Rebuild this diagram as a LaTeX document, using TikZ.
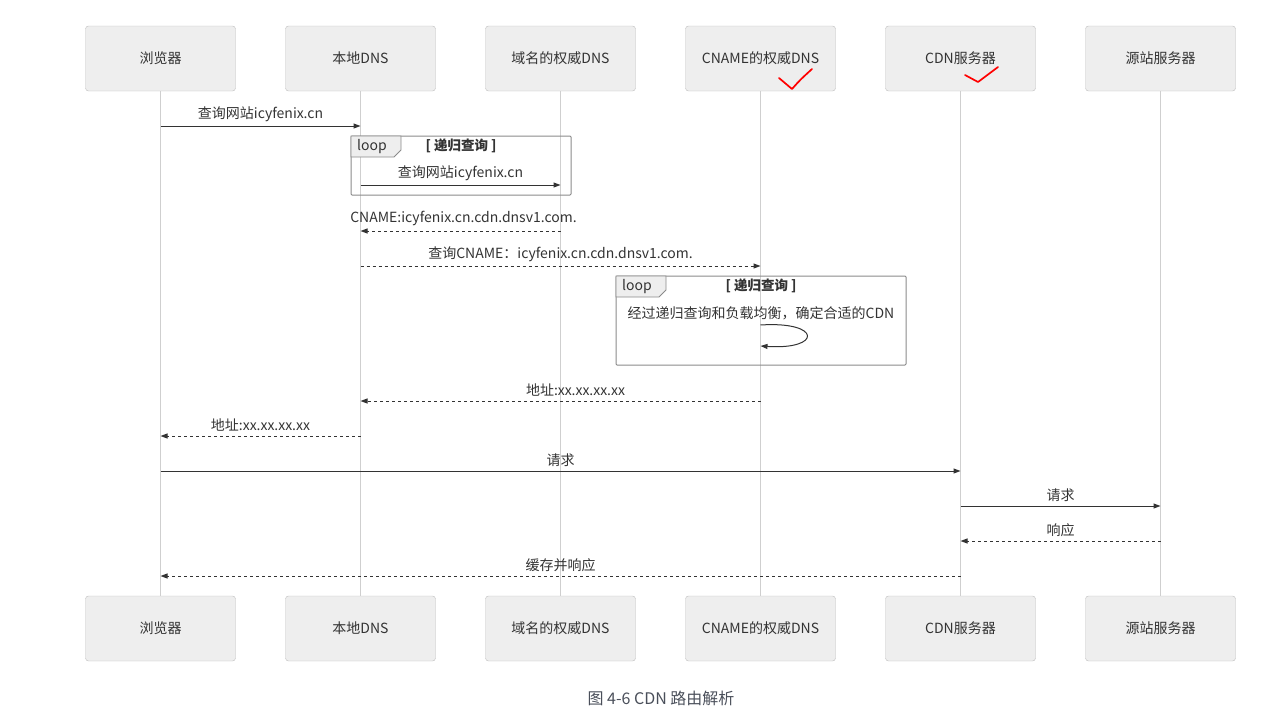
\documentclass[tikz,border=0pt]{standalone}
\usepackage{fontspec}
\setmainfont{Noto Sans CJK SC}
\usetikzlibrary{arrows.meta}

\definecolor{boxfill}{HTML}{EEEEEE}
\definecolor{boxline}{HTML}{BDBDBD}
\definecolor{lifeline}{HTML}{CFCFCF}
\definecolor{ink}{HTML}{333333}
\definecolor{frameline}{HTML}{8A8A8A}
\definecolor{caption}{HTML}{4A4F5A}

\begin{document}
\begin{tikzpicture}[x=1pt, y=-1pt,
    actor/.style={draw=boxline, fill=boxfill, rounded corners=3pt,
        minimum width=150pt, minimum height=65pt, inner sep=0pt,
        text=ink, font=\fontsize{14}{16}\selectfont},
    life/.style={draw=lifeline, line width=1pt},
    lbl/.style={text=ink, inner sep=1pt, font=\fontsize{14}{16}\selectfont},
    msg/.style={draw=ink, line width=1pt, -{Triangle[length=7pt, width=5pt]}},
    reply/.style={msg, dash pattern=on 3pt off 3pt},
    frame/.style={draw=frameline, line width=1pt, rounded corners=1pt},
    tab/.style={draw=frameline, fill=boxfill, line width=0.8pt},
    tick/.style={draw=red, line width=1.7pt, line cap=round, line join=round}
]
    \useasboundingbox (0,0) rectangle (1283,712);

    % participants, top row
    \node[actor] (browser) at (160.5,58.5) {浏览器};
    \node[actor] (local) at (360.5,58.5) {本地DNS};
    \node[actor] (domain) at (560.5,58.5) {域名的权威DNS};
    \node[actor] (cname) at (760.5,58.5) {CNAME的权威DNS};
    \node[actor] (cdn) at (960.5,58.5) {CDN服务器};
    \node[actor] (origin) at (1160.5,58.5) {源站服务器};

    % participants, bottom row
    \node[actor] (browserB) at (160.5,628.5) {浏览器};
    \node[actor] (localB) at (360.5,628.5) {本地DNS};
    \node[actor] (domainB) at (560.5,628.5) {域名的权威DNS};
    \node[actor] (cnameB) at (760.5,628.5) {CNAME的权威DNS};
    \node[actor] (cdnB) at (960.5,628.5) {CDN服务器};
    \node[actor] (originB) at (1160.5,628.5) {源站服务器};

    % lifelines
    \draw[life] (browser) -- (browserB);
    \draw[life] (local) -- (localB);
    \draw[life] (domain) -- (domainB);
    \draw[life] (cname) -- (cnameB);
    \draw[life] (cdn) -- (cdnB);
    \draw[life] (origin) -- (originB);

    % first loop frame
    \draw[frame] (351,136) rectangle (571,195);
    \draw[tab] (351,136) -- (401,136) -- (401,150) -- (394,157) -- (351,157) -- cycle;
    \node[lbl] (loopA) at (372,146.5) {loop};
    \node[lbl, font=\fontsize{13.5}{15}\bfseries] (condA) at (461,146) {[ 递归查询 ]};

    % second loop frame
    \draw[frame] (616,276) rectangle (906,365);
    \draw[tab] (616,276) -- (666,276) -- (666,290) -- (659,297) -- (616,297) -- cycle;
    \node[lbl] (loopB) at (637,286.5) {loop};
    \node[lbl, font=\fontsize{13.5}{15}\bfseries] (condB) at (761,286) {[ 递归查询 ]};

    % messages
    \draw[msg] (browser |- 0,126) -- (local |- 0,126)
        node[lbl, midway, above=3pt] (m1) {查询网站icyfenix.cn};
    \draw[msg] (local |- 0,185) -- (domain |- 0,185)
        node[lbl, midway, above=3pt] (m2) {查询网站icyfenix.cn};
    \draw[reply] (domain |- 0,231) -- (local |- 0,231)
        node[lbl, midway, above=4pt, xshift=3pt] (m3) {CNAME:icyfenix.cn.cdn.dnsv1.com.};
    \draw[reply] (local |- 0,266) -- (cname |- 0,266)
        node[lbl, midway, above=3pt] (m4) {查询CNAME：icyfenix.cn.cdn.dnsv1.com.};

    % self message
    \node[lbl] (m5) at (761,313.5) {经过递归查询和负载均衡，确定合适的CDN};
    \draw[msg] (cname |- 0,325) .. controls (822,321) and (822,350) .. (cname |- 0,346);

    \draw[reply] (cname |- 0,401) -- (local |- 0,401)
        node[lbl, midway, above=3pt, xshift=15pt] (m6) {地址:xx.xx.xx.xx};
    \draw[reply] (local |- 0,436) -- (browser |- 0,436)
        node[lbl, midway, above=3pt] (m7) {地址:xx.xx.xx.xx};
    \draw[msg] (browser |- 0,471) -- (cdn |- 0,471)
        node[lbl, midway, above=3pt] (m8) {请求};
    \draw[msg] (cdn |- 0,506) -- (origin |- 0,506)
        node[lbl, midway, above=3pt] (m9) {请求};
    \draw[reply] (origin |- 0,541) -- (cdn |- 0,541)
        node[lbl, midway, above=3pt] (m10) {响应};
    \draw[reply] (cdn |- 0,576) -- (browser |- 0,576)
        node[lbl, midway, above=3pt] (m11) {缓存并响应};

    % hand-drawn ticks
    \draw[tick] (779,78) .. controls (785,84) .. (792,89) .. controls (800,80) .. (812,69);
    \draw[tick] (965,75) .. controls (971,79) .. (978,82) .. controls (988,75) .. (998,67);

    % caption
    \node[text=caption, font=\fontsize{16}{18}\selectfont] (cap) at (661,698) {图 4-6 CDN 路由解析};
\end{tikzpicture}
\end{document}
